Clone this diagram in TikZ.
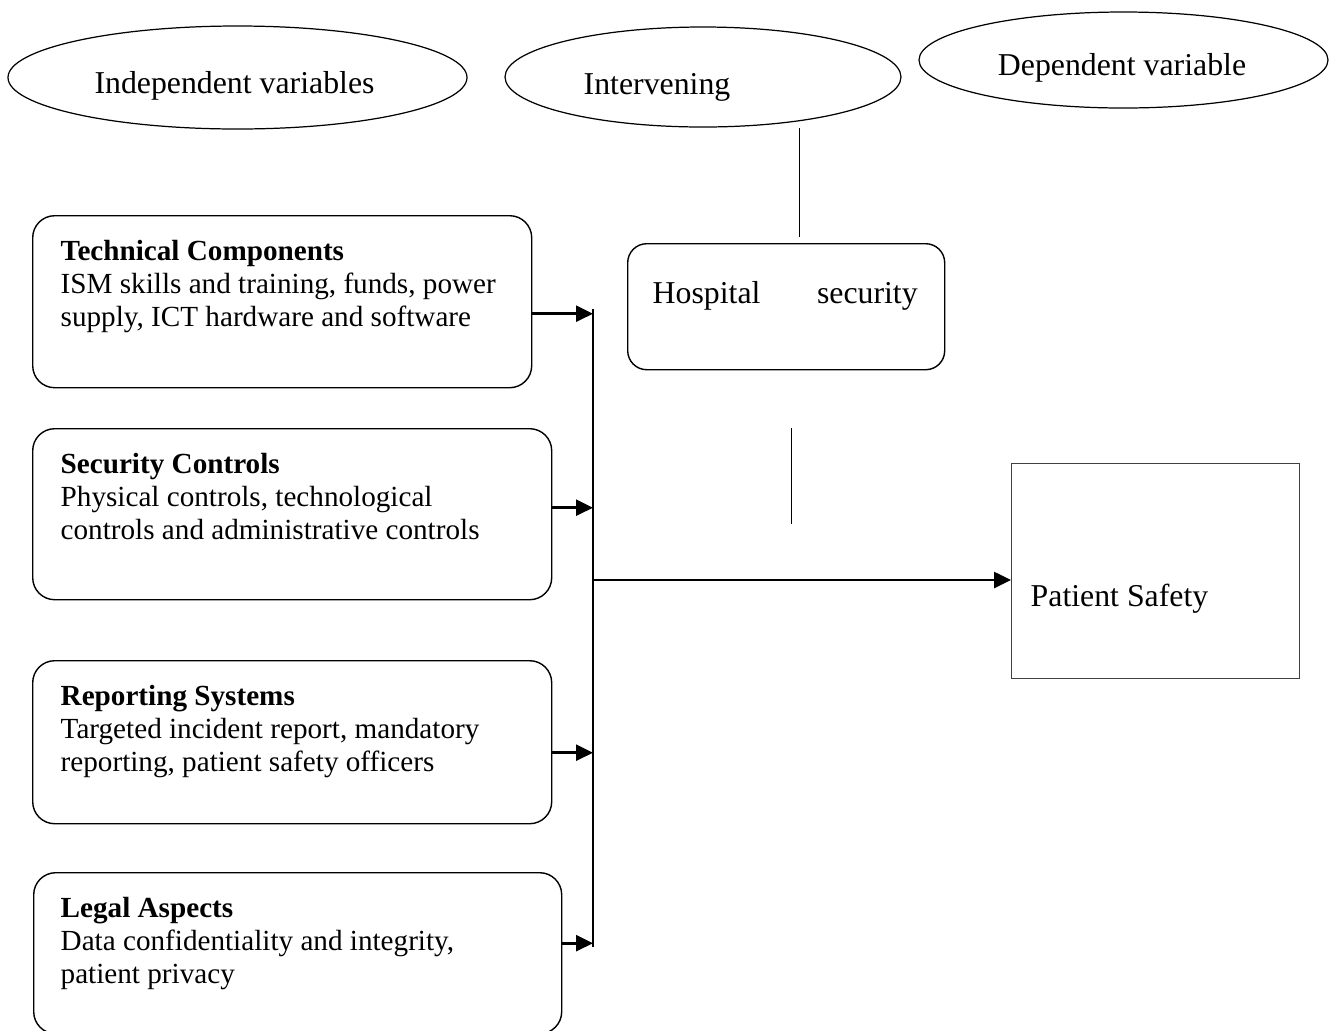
\documentclass[tikz,border=0pt]{standalone}
\usepackage{fontspec}
\setmainfont{Liberation Serif}
\usetikzlibrary{shapes.geometric,positioning,arrows.meta}

\begin{document}
\begin{tikzpicture}
  [var/.style={
    ellipse,
    draw,
    line width=0.35pt,
    inner sep=0pt
    },
   factor/.style={
    rectangle,
    draw,
    rounded corners=0.22cm,
    line width=0.4pt,
    inner sep=0pt,
    anchor=north west
    },
   factortext/.style={
    inner sep=0pt,
    align=left,
    anchor=north west,
    font=\fontsize{8.3}{9.39}\selectfont
    },
   bigtext/.style={inner sep=0pt, font=\fontsize{9.05}{10}\selectfont},
   link/.style={line width=0.75pt, -{Triangle[length=0.17cm,width=0.16cm]}},
   bus/.style={line width=0.6pt}
  ]
  \useasboundingbox (0,0) rectangle (13.33,-10.30);

  % the three kinds of variable
  \node [var, minimum width=4.59cm, minimum height=1.03cm] (indep) at (2.375,-0.775) {};
  \node [bigtext] (indeptext) at ([xshift=-0.03cm,yshift=-0.08cm]indep.center) {Independent variables};

  \node [var, minimum width=3.96cm, minimum height=1.00cm] (interv) at (7.03,-0.77) {};
  \node [bigtext] (intervtext) at ([xshift=-0.46cm,yshift=-0.10cm]interv.center) {Intervening};

  \node [var, minimum width=4.09cm, minimum height=0.96cm] (dep) at (11.235,-0.60) {};
  \node [bigtext] (deptext) at ([xshift=-0.015cm,yshift=-0.08cm]dep.center) {Dependent variable};

  % independent variables
  \node [factor, minimum width=4.99cm, minimum height=1.72cm] (tech) at (0.32,-2.15) {};
  \node [factortext, below right=0.25cm and 0.28cm of tech.north west] (techtext)
    {\textbf{Technical Components}\\
     ISM skills and training, funds, power\\
     supply, ICT hardware and software};

  \node [factor, minimum width=5.19cm, minimum height=1.71cm] (sec) at (0.32,-4.28) {};
  \node [factortext, below right=0.25cm and 0.28cm of sec.north west] (sectext)
    {\textbf{Security Controls}\\
     Physical controls, technological\\
     controls and administrative controls};

  \node [factor, minimum width=5.19cm, minimum height=1.63cm] (rep) at (0.32,-6.60) {};
  \node [factortext, below right=0.25cm and 0.28cm of rep.north west] (reptext)
    {\textbf{Reporting Systems}\\
     Targeted incident report, mandatory\\
     reporting, patient safety officers};

  \node [factor, minimum width=5.28cm, minimum height=1.61cm] (legal) at (0.33,-8.72) {};
  \node [factortext, below right=0.25cm and 0.27cm of legal.north west] (legaltext)
    {\textbf{Legal Aspects}\\
     Data confidentiality and integrity,\\
     patient privacy};

  % intervening variable
  \node [factor, rounded corners=0.19cm, minimum width=3.17cm, minimum height=1.26cm] (hospital) at (6.27,-2.43) {};
  \node [bigtext, text width=2.65cm, align=left] (hospitaltext) at ([xshift=-0.01cm,yshift=0.11cm]hospital.center) {Hospital\hfill security};

  % dependent variable
  \node [rectangle, draw=black!75, line width=0.4pt, minimum width=2.88cm, minimum height=2.15cm, anchor=north west] (safety) at (10.11,-4.63) {};
  \node [bigtext, anchor=west] (safetytext) at ([xshift=0.19cm,yshift=-0.28cm]safety.west) {Patient Safety};

  \draw [line width=0.45pt] ([xshift=0.135cm,yshift=0.06cm]hospital.north) -- ++(0,1.09);
  \draw [line width=0.4pt] ([xshift=0.055cm,yshift=-0.58cm]hospital.south) -- ++(0,-0.96);

  % collecting line
  \coordinate (bustop) at (5.93,-3.09);
  \coordinate (busbot) at (5.93,-9.47);
  \coordinate (busmid) at (5.93,-5.80);
  \draw [bus] (bustop) -- (busbot);

  \draw [link] ([yshift=-0.12cm]tech.east) -- ([yshift=-0.12cm]tech.east -| bustop);
  \draw [link] ([yshift=0.065cm]sec.east) -- ([yshift=0.065cm]sec.east -| bustop);
  \draw [link] ([yshift=-0.105cm]rep.east) -- ([yshift=-0.105cm]rep.east -| bustop);
  \draw [link] ([yshift=0.10cm]legal.east) -- ([yshift=0.10cm]legal.east -| bustop);
  \draw [link] (busmid) -- (busmid -| safety.west);
\end{tikzpicture}
\end{document}
